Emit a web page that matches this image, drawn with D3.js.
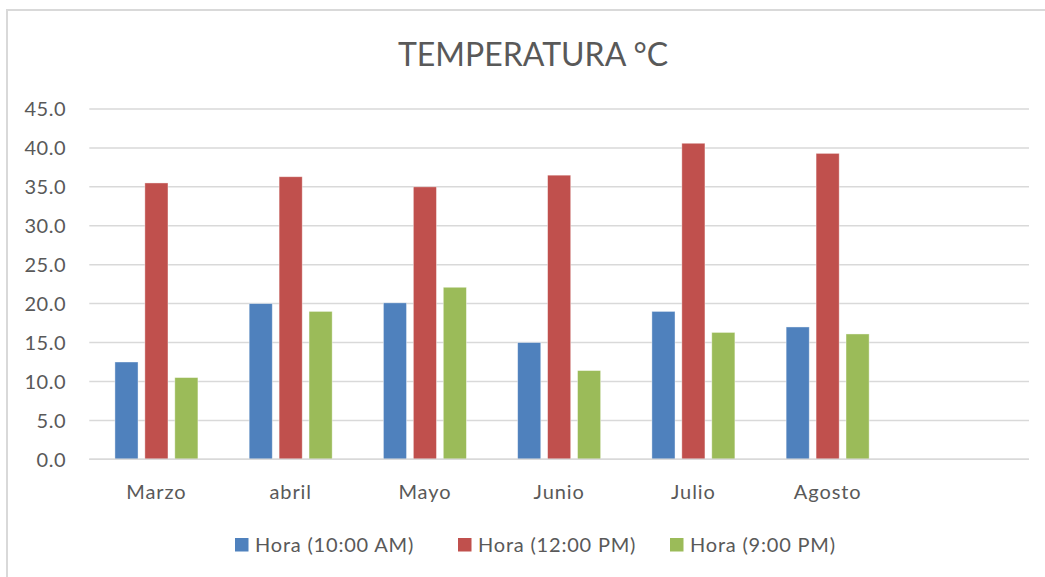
<!DOCTYPE html>
<html>
<head>
<meta charset="utf-8">
<script src="https://cdn.jsdelivr.net/npm/d3@7"></script>
<style>
  html, body { margin: 0; padding: 0; background: #fff; }
  svg { display: block; }
  text { font-family: Lato, "Open Sans", sans-serif; fill: #595959; }
</style>
</head>
<body>
<script>
// ---- data ----
const categories = ["Marzo", "abril", "Mayo", "Junio", "Julio", "Agosto", ""];
const seriesNames = ["Hora (10:00 AM)", "Hora (12:00 PM)", "Hora (9:00 PM)"];
const hora10am = [12.5, 20.0, 20.1, 15.0, 19.0, 17.0];
const hora12pm = [35.5, 36.3, 35.0, 36.5, 40.6, 39.3];
const hora9pm  = [10.5, 19.0, 22.1, 11.4, 16.3, 16.1];
const yTicks = [0, 5, 10, 15, 20, 25, 30, 35, 40, 45];
const colors = ["#4F81BD", "#C0504D", "#9BBB59"];
const title = "TEMPERATURA °C";

const seriesValues = [hora10am, hora12pm, hora9pm];

const W = 1045, H = 577;
const svg = d3.select("body").append("svg").attr("width", W).attr("height", H);

// outer chart border
svg.append("rect")
  .attr("x", 7).attr("y", 10).attr("width", W + 20).attr("height", H + 20)
  .attr("fill", "none").attr("stroke", "#D9D9D9").attr("stroke-width", 2);

// title
svg.append("text")
  .attr("x", 533).attr("y", 66)
  .attr("text-anchor", "middle")
  .style("font-size", "32px")
  .text(title);

const x0 = d3.scaleBand().domain(categories).range([89.3, 1029]).padding(0);
const groupW = 83;
const x1 = d3.scaleBand().domain(seriesNames)
  .range([(x0.bandwidth() - groupW) / 2, (x0.bandwidth() + groupW) / 2])
  .paddingInner(0.228).paddingOuter(0);
const y = d3.scaleLinear().domain([0, 45]).range([459.3, 109]);

// gridlines
svg.append("g")
  .selectAll("line")
  .data(yTicks)
  .join("line")
  .attr("x1", 89.3).attr("x2", 1029)
  .attr("y1", d => y(d)).attr("y2", d => y(d))
  .attr("stroke", "#D9D9D9").attr("stroke-width", 1.5);

// y axis labels
const yAxis = d3.axisLeft(y).tickValues(yTicks).tickFormat(d3.format(".1f")).tickSize(0).tickPadding(0);
const yg = svg.append("g").attr("transform", "translate(66,0)").call(yAxis);
yg.select(".domain").remove();
yg.selectAll("text").style("font-size", "20px").style("letter-spacing", "0.5px")
  .attr("fill", "#595959").attr("dy", "0.34em");

// bars
const rows = categories.slice(0, hora10am.length).map((c, i) => ({
  cat: c,
  vals: seriesNames.map((s, k) => ({ s, k, v: seriesValues[k][i] }))
}));

const groups = svg.append("g").selectAll("g")
  .data(rows).join("g")
  .attr("transform", d => `translate(${x0(d.cat)},0)`);

groups.selectAll("rect")
  .data(d => d.vals).join("rect")
  .attr("x", d => x1(d.s))
  .attr("width", x1.bandwidth())
  .attr("y", d => y(d.v))
  .attr("height", d => y(0) - y(d.v))
  .attr("fill", d => colors[d.k])
  .attr("stroke", "#ffffff").attr("stroke-opacity", 0.5).attr("stroke-width", 0.8);

// x axis
const xAxis = d3.axisBottom(x0).tickSize(0).tickPadding(0);
const xg = svg.append("g").attr("transform", "translate(0,459.3)").call(xAxis);
xg.select(".domain").remove();
xg.selectAll("text").style("font-size", "20px").style("letter-spacing", "0.9px")
  .attr("fill", "#595959").attr("y", 39.5).attr("dy", "0");

// zero baseline
svg.append("line")
  .attr("x1", 89.3).attr("x2", 1029).attr("y1", y(0)).attr("y2", y(0))
  .attr("stroke", "#D9D9D9").attr("stroke-width", 1.5);

// legend
const legendX = [235, 458, 670];
const legend = svg.append("g").selectAll("g")
  .data(seriesNames).join("g")
  .attr("transform", (d, i) => `translate(${legendX[i]},538)`);
legend.append("rect").attr("width", 13.5).attr("height", 13.5)
  .attr("fill", (d, i) => colors[i]);
legend.append("text").attr("x", 20).attr("y", 14)
  .style("font-size", "20px").style("letter-spacing", "0.8px").text(d => d);
</script>
</body>
</html>
